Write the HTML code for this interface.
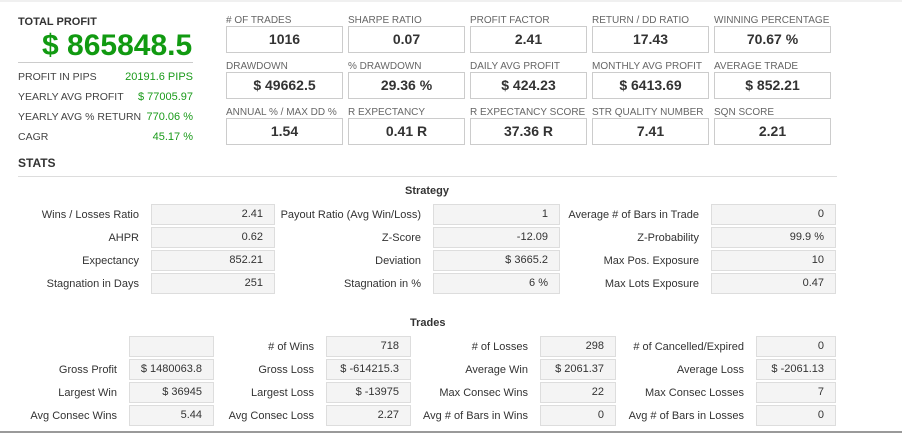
<!DOCTYPE html>
<html><head><meta charset="utf-8"><style>
*{margin:0;padding:0;box-sizing:border-box}
body{width:902px;height:434px;background:#fff;position:relative;overflow:hidden;font-family:"Liberation Sans",Arial,sans-serif;color:#444}
div{position:absolute}
.top{left:0;top:0;width:902px;height:2px;background:#f0f0f0}
.bot{left:0;top:431px;width:902px;height:2px;background:#9a9a9a}
.ml{font-size:10px;color:#666;white-space:nowrap;line-height:12px}
.mb{width:117px;height:27px;border:1px solid #ccc;font-size:14px;font-weight:bold;color:#333;text-align:center;line-height:25px}
.ll{left:18px;font-size:10.5px;color:#444;line-height:14px;white-space:nowrap}
.lv{right:709px;font-size:11px;color:#1a9a1a;line-height:14px;text-align:right}
.sl{font-size:11px;color:#333;text-align:right;line-height:14px;white-space:nowrap}
.sb{height:21px;background:#f4f4f4;border:1px solid #ddd;font-size:11px;color:#333;text-align:right;line-height:19px;padding-right:11px}
.h{font-size:11px;font-weight:bold;color:#333;line-height:14px}
</style></head><body>
<div class="top"></div>
<div style="left:18px;top:16px;font-size:11px;font-weight:bold;color:#333">TOTAL PROFIT</div>
<div style="left:42px;top:28px;font-size:30px;font-weight:bold;color:#119a11;line-height:36px">$ 865848.5</div>
<div style="left:18px;top:62px;width:175px;height:1px;background:#ccc"></div>
<div class="ll" style="top:70px">PROFIT IN PIPS</div><div class="lv" style="top:70px">20191.6 PIPS</div>
<div class="ll" style="top:90px">YEARLY AVG PROFIT</div><div class="lv" style="top:90px">$ 77005.97</div>
<div class="ll" style="top:110px">YEARLY AVG % RETURN</div><div class="lv" style="top:110px">770.06 %</div>
<div class="ll" style="top:130px">CAGR</div><div class="lv" style="top:130px">45.17 %</div>

<div class="ml" style="left:226px;top:15px"># OF TRADES</div><div class="mb" style="left:226px;top:26px">1016</div>
<div class="ml" style="left:348px;top:15px">SHARPE RATIO</div><div class="mb" style="left:348px;top:26px">0.07</div>
<div class="ml" style="left:470px;top:15px">PROFIT FACTOR</div><div class="mb" style="left:470px;top:26px">2.41</div>
<div class="ml" style="left:592px;top:15px">RETURN / DD RATIO</div><div class="mb" style="left:592px;top:26px">17.43</div>
<div class="ml" style="left:714px;top:15px">WINNING PERCENTAGE</div><div class="mb" style="left:714px;top:26px">70.67 %</div>

<div class="ml" style="left:226px;top:61px">DRAWDOWN</div><div class="mb" style="left:226px;top:72px">$ 49662.5</div>
<div class="ml" style="left:348px;top:61px">% DRAWDOWN</div><div class="mb" style="left:348px;top:72px">29.36 %</div>
<div class="ml" style="left:470px;top:61px">DAILY AVG PROFIT</div><div class="mb" style="left:470px;top:72px">$ 424.23</div>
<div class="ml" style="left:592px;top:61px">MONTHLY AVG PROFIT</div><div class="mb" style="left:592px;top:72px">$ 6413.69</div>
<div class="ml" style="left:714px;top:61px">AVERAGE TRADE</div><div class="mb" style="left:714px;top:72px">$ 852.21</div>

<div class="ml" style="left:226px;top:107px">ANNUAL % / MAX DD %</div><div class="mb" style="left:226px;top:118px">1.54</div>
<div class="ml" style="left:348px;top:107px">R EXPECTANCY</div><div class="mb" style="left:348px;top:118px">0.41 R</div>
<div class="ml" style="left:470px;top:107px">R EXPECTANCY SCORE</div><div class="mb" style="left:470px;top:118px">37.36 R</div>
<div class="ml" style="left:592px;top:107px">STR QUALITY NUMBER</div><div class="mb" style="left:592px;top:118px">7.41</div>
<div class="ml" style="left:714px;top:107px">SQN SCORE</div><div class="mb" style="left:714px;top:118px">2.21</div>

<div style="left:18px;top:156px;font-size:12px;font-weight:bold;color:#333">STATS</div>
<div style="left:18px;top:176px;width:819px;height:1px;background:#ddd"></div>

<div class="h" style="left:405px;top:184px">Strategy</div>
<div class="sl" style="right:763px;top:208px">Wins / Losses Ratio</div><div class="sb" style="left:151px;top:204px;width:124px">2.41</div>
<div class="sl" style="right:481px;top:208px">Payout Ratio (Avg Win/Loss)</div><div class="sb" style="left:433px;top:204px;width:127px">1</div>
<div class="sl" style="right:203px;top:208px">Average # of Bars in Trade</div><div class="sb" style="left:711px;top:204px;width:125px">0</div>

<div class="sl" style="right:763px;top:231px">AHPR</div><div class="sb" style="left:151px;top:227px;width:124px">0.62</div>
<div class="sl" style="right:481px;top:231px">Z-Score</div><div class="sb" style="left:433px;top:227px;width:127px">-12.09</div>
<div class="sl" style="right:203px;top:231px">Z-Probability</div><div class="sb" style="left:711px;top:227px;width:125px">99.9 %</div>

<div class="sl" style="right:763px;top:254px">Expectancy</div><div class="sb" style="left:151px;top:250px;width:124px">852.21</div>
<div class="sl" style="right:481px;top:254px">Deviation</div><div class="sb" style="left:433px;top:250px;width:127px">$ 3665.2</div>
<div class="sl" style="right:203px;top:254px">Max Pos. Exposure</div><div class="sb" style="left:711px;top:250px;width:125px">10</div>

<div class="sl" style="right:763px;top:277px">Stagnation in Days</div><div class="sb" style="left:151px;top:273px;width:124px">251</div>
<div class="sl" style="right:481px;top:277px">Stagnation in %</div><div class="sb" style="left:433px;top:273px;width:127px">6 %</div>
<div class="sl" style="right:203px;top:277px">Max Lots Exposure</div><div class="sb" style="left:711px;top:273px;width:125px">0.47</div>

<div class="h" style="left:410px;top:316px">Trades</div>
<div class="sb" style="left:129px;top:336px;width:85px"></div>
<div class="sl" style="right:588px;top:340px"># of Wins</div><div class="sb" style="left:326px;top:336px;width:85px">718</div>
<div class="sl" style="right:374px;top:340px"># of Losses</div><div class="sb" style="left:540px;top:336px;width:76px">298</div>
<div class="sl" style="right:158px;top:340px"># of Cancelled/Expired</div><div class="sb" style="left:756px;top:336px;width:80px">0</div>

<div class="sl" style="right:785px;top:363px">Gross Profit</div><div class="sb" style="left:129px;top:359px;width:85px">$ 1480063.8</div>
<div class="sl" style="right:588px;top:363px">Gross Loss</div><div class="sb" style="left:326px;top:359px;width:85px">$ -614215.3</div>
<div class="sl" style="right:374px;top:363px">Average Win</div><div class="sb" style="left:540px;top:359px;width:76px">$ 2061.37</div>
<div class="sl" style="right:158px;top:363px">Average Loss</div><div class="sb" style="left:756px;top:359px;width:80px">$ -2061.13</div>

<div class="sl" style="right:785px;top:386px">Largest Win</div><div class="sb" style="left:129px;top:382px;width:85px">$ 36945</div>
<div class="sl" style="right:588px;top:386px">Largest Loss</div><div class="sb" style="left:326px;top:382px;width:85px">$ -13975</div>
<div class="sl" style="right:374px;top:386px">Max Consec Wins</div><div class="sb" style="left:540px;top:382px;width:76px">22</div>
<div class="sl" style="right:158px;top:386px">Max Consec Losses</div><div class="sb" style="left:756px;top:382px;width:80px">7</div>

<div class="sl" style="right:785px;top:409px">Avg Consec Wins</div><div class="sb" style="left:129px;top:405px;width:85px">5.44</div>
<div class="sl" style="right:588px;top:409px">Avg Consec Loss</div><div class="sb" style="left:326px;top:405px;width:85px">2.27</div>
<div class="sl" style="right:374px;top:409px">Avg # of Bars in Wins</div><div class="sb" style="left:540px;top:405px;width:76px">0</div>
<div class="sl" style="right:158px;top:409px">Avg # of Bars in Losses</div><div class="sb" style="left:756px;top:405px;width:80px">0</div>

<div class="bot"></div>
</body></html>
